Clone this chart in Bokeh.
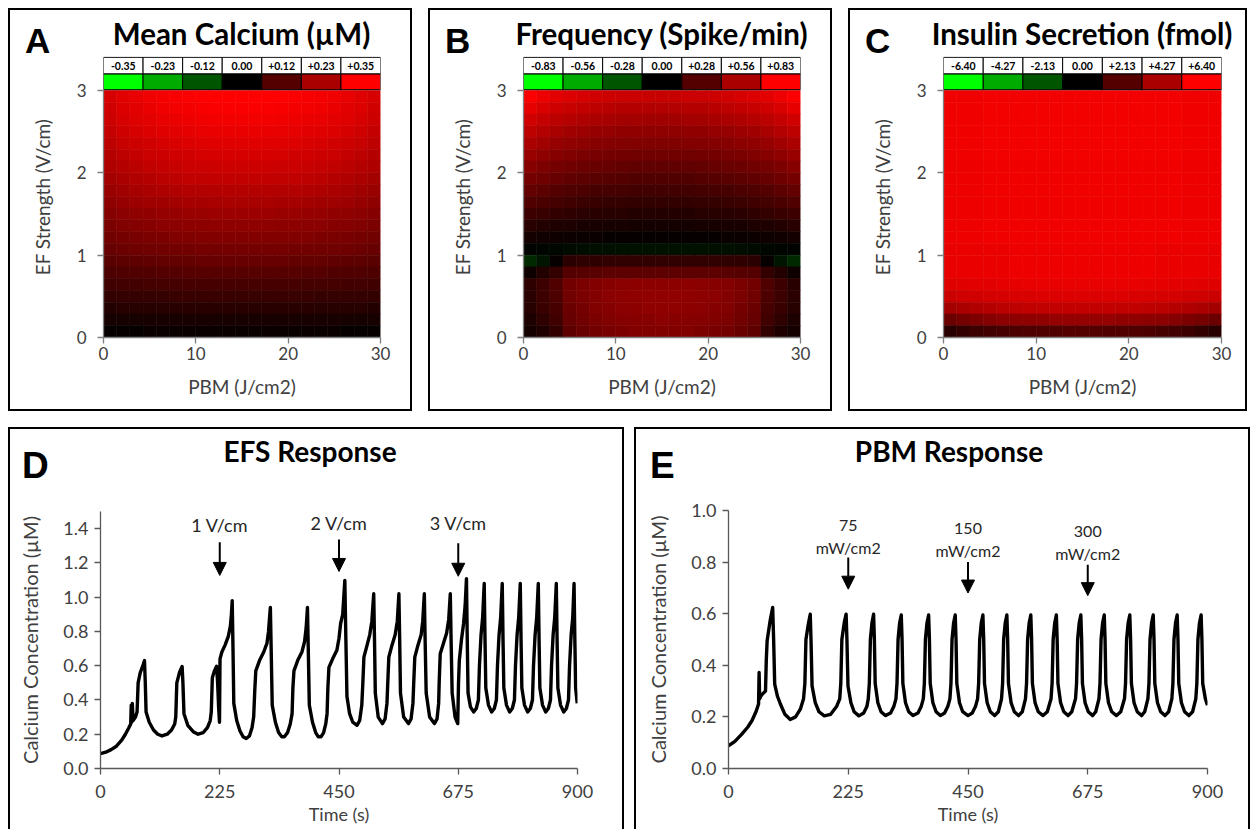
import numpy as np
from bokeh.plotting import figure
from bokeh.models import (LinearColorMapper, FixedTicker, Arrow, NormalHead, Div,
                          ColumnDataSource, PrintfTickFormatter, Range1d)
from bokeh.transform import transform
from bokeh.layouts import row, column
from bokeh.embed import file_html
from bokeh.resources import INLINE
from bokeh.core.properties import value

# ------------------------------------------------------------------ data
heat_x_ticks = [0, 10, 20, 30]
heat_y_ticks = [0, 1, 2, 3]

A_title = "Mean Calcium (µM)"
A_scale = ["-0.35", "-0.23", "-0.12", "0.00", "+0.12", "+0.23", "+0.35"]
# cell values in % of scale maximum, rows from EF = 3 (top) down to EF = 0
A_grid = [
    [84, 88, 91, 94, 96, 97, 98, 99, 100, 100, 100, 100, 100, 99, 98, 97, 96, 94, 91, 88, 84],
    [82, 86, 89, 92, 94, 95, 96, 97, 98, 98, 98, 98, 98, 97, 96, 95, 94, 92, 89, 86, 82],
    [80, 84, 87, 89, 91, 92, 93, 94, 95, 95, 95, 95, 95, 94, 93, 92, 91, 89, 87, 84, 80],
    [77, 81, 84, 86, 88, 89, 90, 91, 92, 92, 92, 92, 92, 91, 90, 89, 88, 86, 84, 81, 77],
    [74, 78, 80, 82, 84, 85, 86, 87, 88, 88, 88, 88, 88, 87, 86, 85, 84, 82, 80, 78, 74],
    [71, 74, 77, 79, 80, 82, 82, 83, 84, 84, 84, 84, 84, 83, 82, 82, 80, 79, 77, 74, 71],
    [68, 71, 73, 75, 77, 78, 79, 79, 80, 80, 80, 80, 80, 79, 79, 78, 77, 75, 73, 71, 68],
    [64, 67, 69, 71, 73, 74, 75, 75, 76, 76, 76, 76, 76, 75, 75, 74, 73, 71, 69, 67, 64],
    [60, 63, 65, 67, 68, 69, 70, 70, 71, 71, 71, 71, 71, 70, 70, 69, 68, 67, 65, 63, 60],
    [56, 59, 61, 62, 63, 64, 65, 65, 66, 66, 66, 66, 66, 65, 65, 64, 63, 62, 61, 59, 56],
    [52, 54, 56, 57, 58, 59, 60, 60, 61, 61, 61, 61, 61, 60, 60, 59, 58, 57, 56, 54, 52],
    [48, 50, 52, 53, 54, 54, 55, 55, 56, 56, 56, 56, 56, 55, 55, 54, 54, 53, 52, 50, 48],
    [44, 46, 47, 48, 49, 50, 50, 51, 51, 51, 51, 51, 51, 51, 50, 50, 49, 48, 47, 46, 44],
    [40, 42, 43, 44, 44, 45, 45, 46, 46, 46, 46, 46, 46, 46, 45, 45, 44, 44, 43, 42, 40],
    [35, 36, 37, 38, 39, 39, 39, 40, 40, 40, 40, 40, 40, 40, 39, 39, 39, 38, 37, 36, 35],
    [30, 31, 32, 32, 33, 33, 34, 34, 34, 34, 34, 34, 34, 34, 34, 33, 33, 32, 32, 31, 30],
    [25, 26, 26, 27, 27, 27, 28, 28, 28, 28, 28, 28, 28, 28, 28, 27, 27, 27, 26, 26, 25],
    [20, 21, 21, 21, 21, 22, 22, 22, 22, 22, 22, 22, 22, 22, 22, 22, 21, 21, 21, 21, 20],
    [14, 15, 15, 15, 15, 16, 16, 16, 16, 16, 16, 16, 16, 16, 16, 16, 15, 15, 15, 15, 14],
    [9, 9, 9, 10, 10, 10, 10, 10, 10, 10, 10, 10, 10, 10, 10, 10, 10, 10, 9, 9, 9],
    [3, 3, 3, 4, 4, 4, 4, 4, 4, 4, 4, 4, 4, 4, 4, 4, 4, 4, 3, 3, 3],
]

B_title = "Frequency (Spike/min)"
B_scale = ["-0.83", "-0.56", "-0.28", "0.00", "+0.28", "+0.56", "+0.83"]
B_grid = [
    [98, 93, 89, 86, 84, 82, 80, 79, 79, 78, 78, 78, 79, 79, 80, 82, 84, 86, 89, 93, 98],
    [90, 85, 81, 78, 76, 74, 72, 71, 71, 70, 70, 70, 71, 71, 72, 74, 76, 78, 81, 85, 90],
    [82, 77, 73, 71, 68, 67, 65, 64, 64, 63, 63, 63, 64, 64, 65, 67, 68, 71, 73, 77, 82],
    [74, 70, 66, 63, 61, 59, 58, 57, 57, 56, 56, 56, 57, 57, 58, 59, 61, 63, 66, 70, 74],
    [67, 63, 59, 57, 55, 53, 52, 51, 51, 50, 50, 50, 51, 51, 52, 53, 55, 57, 59, 63, 67],
    [60, 56, 53, 50, 48, 47, 46, 45, 44, 44, 44, 44, 44, 45, 46, 47, 48, 50, 53, 56, 60],
    [53, 49, 46, 44, 42, 41, 40, 39, 38, 38, 38, 38, 38, 39, 40, 41, 42, 44, 46, 49, 53],
    [46, 43, 40, 38, 36, 35, 34, 33, 32, 32, 32, 32, 32, 33, 34, 35, 36, 38, 40, 43, 46],
    [39, 36, 33, 31, 30, 28, 28, 27, 26, 26, 26, 26, 26, 27, 28, 28, 30, 31, 33, 36, 39],
    [32, 29, 27, 25, 23, 22, 21, 21, 20, 20, 20, 20, 20, 21, 21, 22, 23, 25, 27, 29, 32],
    [24, 22, 20, 18, 17, 16, 15, 15, 14, 14, 14, 14, 14, 15, 15, 16, 17, 18, 20, 22, 24],
    [16, 14, 12, 11, 10, 10, 9, 9, 8, 8, 8, 8, 8, 9, 9, 10, 10, 11, 12, 14, 16],
    [8, 7, 6, 5, 4, 4, 3, 3, 3, 3, 3, 3, 3, 3, 3, 4, 4, 5, 6, 7, 8],
    [-1, -2, -3, -4, -5, -6, -6, -7, -7, -7, -7, -7, -7, -7, -6, -6, -5, -4, -3, -2, -1],
    [-16, -8, 3, 17, 18, 18, 19, 19, 19, 19, 19, 19, 19, 19, 19, 18, 18, 17, 3, -8, -16],
    [6, 14, 20, 33, 34, 35, 36, 36, 36, 36, 36, 36, 36, 36, 36, 35, 34, 33, 20, 14, 6],
    [18, 24, 32, 45, 48, 51, 53, 54, 55, 55, 55, 55, 55, 54, 53, 51, 48, 45, 32, 24, 16],
    [17, 24, 30, 44, 48, 51, 54, 55, 56, 57, 57, 57, 56, 55, 54, 51, 48, 44, 30, 24, 17],
    [15, 22, 28, 42, 46, 50, 52, 54, 55, 56, 56, 56, 55, 54, 52, 50, 46, 42, 28, 22, 15],
    [11, 18, 25, 40, 44, 48, 50, 52, 53, 53, 54, 53, 53, 52, 50, 48, 44, 40, 25, 18, 11],
    [8, 12, 20, 37, 41, 45, 47, 49, 50, 50, 50, 50, 50, 49, 47, 45, 41, 37, 20, 12, 8],
]

C_title = "Insulin Secretion (fmol)"
C_scale = ["-6.40", "-4.27", "-2.13", "0.00", "+2.13", "+4.27", "+6.40"]
C_grid = [
    [94, 94, 94, 95, 95, 95, 95, 95, 95, 95, 95, 95, 95, 95, 95, 95, 95, 95, 94, 94, 94],
    [94, 94, 94, 95, 95, 95, 95, 95, 95, 95, 95, 95, 95, 95, 95, 95, 95, 95, 94, 94, 94],
    [94, 94, 94, 95, 95, 95, 95, 95, 95, 95, 95, 95, 95, 95, 95, 95, 95, 95, 94, 94, 94],
    [94, 94, 94, 95, 95, 95, 95, 95, 95, 95, 95, 95, 95, 95, 95, 95, 95, 95, 94, 94, 94],
    [94, 94, 94, 95, 95, 95, 95, 95, 95, 95, 95, 95, 95, 95, 95, 95, 95, 95, 94, 94, 94],
    [94, 94, 94, 95, 95, 95, 95, 95, 95, 95, 95, 95, 95, 95, 95, 95, 95, 95, 94, 94, 94],
    [93, 93, 93, 94, 94, 94, 94, 94, 94, 94, 94, 94, 94, 94, 94, 94, 94, 94, 93, 93, 93],
    [93, 93, 93, 94, 94, 94, 94, 94, 94, 94, 94, 94, 94, 94, 94, 94, 94, 94, 93, 93, 93],
    [93, 93, 93, 94, 94, 94, 94, 94, 94, 94, 94, 94, 94, 94, 94, 94, 94, 94, 93, 93, 93],
    [93, 93, 93, 94, 94, 94, 94, 94, 94, 94, 94, 94, 94, 94, 94, 94, 94, 94, 93, 93, 93],
    [93, 93, 93, 94, 94, 94, 94, 94, 94, 94, 94, 94, 94, 94, 94, 94, 94, 94, 93, 93, 93],
    [93, 93, 93, 94, 94, 94, 94, 94, 94, 94, 94, 94, 94, 94, 94, 94, 94, 94, 93, 93, 93],
    [93, 93, 93, 94, 94, 94, 94, 94, 94, 94, 94, 94, 94, 94, 94, 94, 94, 94, 93, 93, 93],
    [91, 92, 92, 92, 92, 93, 93, 93, 93, 93, 93, 93, 93, 93, 93, 93, 92, 92, 92, 92, 91],
    [91, 92, 92, 92, 92, 93, 93, 93, 93, 93, 93, 93, 93, 93, 93, 93, 92, 92, 92, 92, 91],
    [91, 92, 92, 92, 92, 93, 93, 93, 93, 93, 93, 93, 93, 93, 93, 93, 92, 92, 92, 92, 91],
    [87, 88, 89, 89, 90, 90, 91, 91, 91, 91, 91, 91, 91, 91, 91, 90, 90, 89, 89, 88, 87],
    [79, 81, 82, 83, 84, 85, 85, 86, 86, 86, 86, 86, 86, 86, 85, 85, 84, 83, 82, 81, 79],
    [64, 67, 69, 71, 73, 74, 75, 75, 76, 76, 76, 76, 76, 75, 75, 74, 73, 71, 69, 67, 64],
    [42, 46, 49, 52, 54, 55, 56, 57, 58, 58, 58, 58, 58, 57, 56, 55, 54, 52, 49, 46, 42],
    [16, 20, 24, 26, 28, 30, 31, 32, 32, 33, 33, 33, 32, 32, 31, 30, 28, 26, 24, 20, 16],
]

time_ticks = [0, 225, 450, 675, 900]

D_title = "EFS Response"
D_y_ticks = [0.0, 0.2, 0.4, 0.6, 0.8, 1.0, 1.2, 1.4]
D_trace = [
    (0, 0.087), (10, 0.095), (20, 0.11), (30, 0.13), (40, 0.165), (47, 0.2), (53, 0.235), (57, 0.26),
    (58, 0.37), (59, 0.27), (60, 0.38), (61.5, 0.28), (66, 0.3), (69, 0.33), (71, 0.5), (75, 0.56),
    (80, 0.6), (83, 0.63), (84.5, 0.5), (86, 0.33), (92, 0.27), (100, 0.225), (108, 0.2), (116, 0.19),
    (126, 0.2), (134, 0.225), (140, 0.26), (142, 0.3), (144, 0.5), (149, 0.56), (154, 0.595),
    (155.5, 0.5), (157.5, 0.32), (165, 0.25), (175, 0.215), (184, 0.2), (194, 0.21), (202, 0.24),
    (207, 0.28), (209, 0.33), (211, 0.53), (215, 0.57), (219, 0.597), (221, 0.5), (223, 0.35),
    (224.5, 0.27), (225.5, 0.64), (229, 0.68), (235, 0.72), (241, 0.77), (245, 0.83), (247, 0.9),
    (248.5, 0.98), (250, 0.7), (251.5, 0.38), (257, 0.28), (263, 0.22), (269, 0.185), (275, 0.175),
    (281, 0.19), (286, 0.24), (289, 0.3), (291, 0.45), (293, 0.57), (300, 0.63), (308, 0.68),
    (314, 0.73), (317, 0.8), (320.5, 0.94), (322, 0.7), (324, 0.37), (330, 0.27), (336, 0.21),
    (342, 0.185), (347, 0.185), (353, 0.21), (358, 0.26), (361.5, 0.32), (363, 0.47), (365, 0.57),
    (372, 0.63), (380, 0.68), (385, 0.74), (388, 0.82), (390.5, 0.94), (392, 0.7), (394, 0.37),
    (400, 0.27), (406, 0.21), (411, 0.185), (416, 0.185), (421, 0.21), (425, 0.26), (427.5, 0.32),
    (429, 0.47), (431, 0.59), (438, 0.64), (446, 0.69), (450, 0.76), (453, 0.845), (457, 0.9),
    (461, 1.098), (463, 0.75), (465, 0.42), (470, 0.32), (476, 0.27), (484, 0.252), (489, 0.28),
    (493, 0.37), (495, 0.5), (497, 0.65), (503, 0.72), (508, 0.78), (512, 0.86), (515.5, 1.02),
    (517, 0.75), (518.5, 0.44), (524, 0.3), (532, 0.262), (537, 0.29), (540.5, 0.38), (542, 0.5),
    (544, 0.65), (550, 0.72), (556, 0.78), (560, 0.86), (563, 1.02), (564.5, 0.75), (566, 0.44),
    (572, 0.3), (581, 0.262), (586, 0.29), (589.5, 0.38), (591, 0.5), (593, 0.65), (599, 0.72),
    (605, 0.78), (608, 0.86), (611, 1.02), (612.5, 0.75), (614.5, 0.44), (621, 0.3), (630, 0.262),
    (635, 0.29), (638, 0.38), (639, 0.5), (641, 0.67), (647, 0.73), (653, 0.79), (657, 0.87),
    (660, 1.02), (661.5, 0.75), (663.5, 0.44), (669, 0.3), (674, 0.262), (675.5, 0.5), (677, 0.63),
    (681, 0.75), (685, 0.845), (688, 0.95), (690.5, 1.108), (692, 0.75), (693.5, 0.44), (698, 0.36),
    (704, 0.33), (709, 0.35), (713, 0.40), (715, 0.6), (718, 0.78), (721, 0.88), (724, 1.08),
    (725.5, 0.75), (727, 0.47), (732, 0.37), (738, 0.33), (743, 0.35), (747, 0.40), (749, 0.6),
    (752, 0.78), (755, 0.88), (758, 1.08), (759.5, 0.75), (761, 0.47), (766, 0.37), (772, 0.33),
    (777, 0.35), (781, 0.40), (783, 0.6), (786, 0.78), (789, 0.88), (792, 1.08), (793.5, 0.75),
    (795, 0.47), (800, 0.37), (806, 0.33), (811, 0.35), (815, 0.40), (817, 0.6), (820, 0.78),
    (823, 0.88), (826, 1.08), (827.5, 0.75), (829, 0.47), (834, 0.37), (840, 0.33), (845, 0.35),
    (849, 0.40), (851, 0.6), (854, 0.78), (857, 0.88), (860, 1.08), (861.5, 0.75), (863, 0.47),
    (868, 0.37), (874, 0.33), (879, 0.35), (883, 0.40), (885, 0.6), (888, 0.78), (891, 0.88),
    (893.5, 1.08), (895, 0.75), (896.5, 0.47), (899.5, 0.38),
]
D_marks_t = [225, 450, 675]
D_marks_text = ["1 V/cm", "2 V/cm", "3 V/cm"]
D_marks_text_y = [1.42, 1.43, 1.43]
D_arrow_top = [1.32, 1.337, 1.314]
D_arrow_tip = [1.127, 1.15, 1.122]

E_title = "PBM Response"
E_y_ticks = [0.0, 0.2, 0.4, 0.6, 0.8, 1.0]
E_trace = [
    (0, 0.088), (12, 0.105), (25, 0.133), (36, 0.16), (44, 0.185), (52, 0.222), (56.5, 0.25),
    (57.5, 0.372), (58.5, 0.27), (62, 0.285), (69.5, 0.30), (71, 0.42), (72.6, 0.495), (78, 0.57),
    (83, 0.624), (84.8, 0.5), (86.8, 0.327), (92, 0.28), (97.5, 0.25), (106, 0.21), (116, 0.19),
    (126, 0.2), (135, 0.23), (141, 0.27), (143.5, 0.33), (145.5, 0.5), (150, 0.56), (153.6, 0.598),
    (155, 0.5), (157, 0.32), (163, 0.255), (170, 0.22), (180, 0.204), (192, 0.21), (203, 0.24),
    (209, 0.27), (211, 0.33), (213, 0.5), (217.5, 0.565), (221, 0.598), (222.5, 0.5), (224.5, 0.32),
    (230, 0.255), (236, 0.22), (245, 0.204), (254, 0.215), (260, 0.24), (262.6, 0.27), (264.6, 0.33),
    (266.6, 0.5), (269.6, 0.565), (272.6, 0.598), (274.1, 0.5), (275.6, 0.33), (280.6, 0.255),
    (286.6, 0.22), (294.6, 0.205), (304.6, 0.215), (310.6, 0.24), (314.6, 0.27), (316.6, 0.33),
    (318.6, 0.5), (321.6, 0.565), (324.6, 0.595), (326.1, 0.5), (327.6, 0.33), (332.6, 0.255),
    (338.6, 0.22), (346.6, 0.205), (356, 0.215), (362, 0.24), (366, 0.27), (368, 0.33), (370, 0.5),
    (373, 0.565), (376, 0.595), (377.5, 0.5), (379, 0.33), (384, 0.255), (390, 0.22), (398, 0.205),
    (406, 0.215), (412, 0.24), (416, 0.27), (418, 0.33), (420, 0.5), (423, 0.565), (426, 0.595),
    (427.5, 0.5), (429, 0.33), (434, 0.255), (440, 0.22), (450, 0.205), (458, 0.215), (464, 0.24),
    (468, 0.27), (470, 0.33), (472, 0.5), (475, 0.565), (478, 0.595), (479.5, 0.5), (481, 0.33),
    (486, 0.255), (492, 0.22), (500, 0.205), (507, 0.22), (513, 0.27), (515, 0.33), (517, 0.5),
    (520, 0.565), (523, 0.595), (524.5, 0.5), (526, 0.33), (531, 0.255), (537, 0.22), (545, 0.205),
    (552, 0.22), (558, 0.27), (560, 0.33), (562, 0.5), (565, 0.565), (568, 0.595), (569.5, 0.5),
    (571, 0.33), (576, 0.255), (582, 0.22), (591, 0.205), (599, 0.22), (606, 0.27), (608, 0.33),
    (610, 0.5), (613, 0.565), (616, 0.595), (617.5, 0.5), (619, 0.33), (624, 0.255), (630, 0.22),
    (638, 0.205), (645, 0.22), (652, 0.27), (654, 0.33), (656, 0.5), (659, 0.565), (662, 0.595),
    (663.5, 0.5), (665, 0.33), (670, 0.255), (676, 0.22), (684, 0.205), (690, 0.22), (696, 0.27),
    (698, 0.33), (700, 0.5), (703, 0.565), (706, 0.595), (707.5, 0.5), (709, 0.33), (714, 0.255),
    (720, 0.22), (729, 0.205), (737, 0.22), (744, 0.27), (746, 0.33), (748, 0.5), (751, 0.565),
    (754, 0.595), (755.5, 0.5), (757, 0.33), (762, 0.255), (768, 0.22), (776, 0.205), (782, 0.22),
    (788, 0.27), (790, 0.33), (792, 0.5), (795, 0.565), (798, 0.595), (799.5, 0.5), (801, 0.33),
    (806, 0.255), (812, 0.22), (820, 0.205), (827, 0.22), (833, 0.27), (835, 0.33), (837, 0.5),
    (840, 0.565), (843, 0.595), (844.5, 0.5), (846, 0.33), (851, 0.255), (857, 0.22), (865, 0.205),
    (872, 0.22), (878, 0.27), (880, 0.33), (882, 0.5), (885, 0.565), (888, 0.595), (889.5, 0.5),
    (891, 0.33), (896, 0.27), (900, 0.245),
]
E_marks_t = [225, 450, 675]
E_marks_num = ["75", "150", "300"]
E_marks_unit = ["mW/cm2", "mW/cm2", "mW/cm2"]
E_num_y = [0.94, 0.93, 0.92]
E_unit_y = [0.855, 0.845, 0.835]
E_arrow_top = [0.818, 0.80, 0.79]
E_arrow_tip = [0.695, 0.68, 0.67]

# ------------------------------------------------------------------ styling helpers
FONT = "Lato"
BOX = {"border": "2px solid black", "box-sizing": "content-box"}
BOX_OPEN = {"border": "2px solid black", "border-bottom": "none", "box-sizing": "content-box"}


def rg(t):
    if t < 0:
        return "#%02x%02x%02x" % (0, int(round(-t * 255)), 0)
    return "#%02x%02x%02x" % (int(round(t * 255)), 0, 0)


palette = [rg(i / 127.5 - 1) for i in range(256)]
mapper = LinearColorMapper(palette=palette, low=-100, high=100)


def header(width, height, letter, lx, ltop, lsize, title, tcx, ttop, tsize):
    html = (
        '<div style="position:relative;width:%dpx;height:%dpx;overflow:visible;">'
        '<span style="position:absolute;left:%dpx;top:%.1fpx;font-family:\'Liberation Sans\';'
        'font-weight:bold;font-size:%dpx;line-height:1;color:#000;white-space:nowrap;">%s</span>'
        '<span style="position:absolute;left:%.1fpx;top:%.1fpx;transform:translateX(-50%%);'
        'font-family:Lato;font-weight:bold;font-size:%.1fpx;line-height:1;color:#000;'
        'white-space:nowrap;">%s</span></div>'
        % (width, height, lx, ltop, lsize, letter, tcx, ttop, tsize, title))
    return Div(text=html, width=width, height=height, margin=(0, 0, 0, 0))


def style_axes(p, tick_size, label_size, axis_color):
    p.xgrid.visible = False
    p.ygrid.visible = False
    p.outline_line_color = None
    p.background_fill_color = "white"
    p.border_fill_color = "white"
    for ax in (p.xaxis, p.yaxis):
        ax.axis_line_color = axis_color
        ax.axis_line_width = 1.3
        ax.major_tick_line_color = axis_color
        ax.major_tick_line_width = 1.3
        ax.major_tick_out = 6
        ax.major_tick_in = 0
        ax.minor_tick_line_color = None
        ax.major_label_text_font = FONT
        ax.major_label_text_font_size = tick_size
        ax.major_label_text_color = "#404040"
        ax.axis_label_text_font = FONT
        ax.axis_label_text_font_size = label_size
        ax.axis_label_text_font_style = "normal"
        ax.axis_label_text_color = "#404040"


def heat_panel(letter, title, grid, scale_labels, width, min_right):
    hd = header(width, 44, letter, 15, 13.4, 35, title,
                93 + (width - 93 - min_right) / 2.0, 8.8, 29.5)
    p = figure(width=width, height=355, x_range=Range1d(0, 30), y_range=Range1d(0, 3.412),
               output_backend="svg", toolbar_location=None,
               min_border_left=93, min_border_right=min_right, min_border_top=2,
               min_border_bottom=72)
    nrow = len(grid)
    ncol = len(grid[0])
    cw = 30.0 / ncol
    ch = 3.0 / nrow
    xs, ys, vs = [], [], []
    for i, r in enumerate(grid):
        for j, v in enumerate(r):
            xs.append((j + 0.5) * cw)
            ys.append(3.0 - (i + 0.5) * ch)
            vs.append(v)
    src = ColumnDataSource(dict(x=xs, y=ys, v=vs))
    p.rect("x", "y", width=cw, height=ch, source=src,
           fill_color=transform("v", mapper), line_color=transform("v", mapper), line_width=0.6)

    # colour key table above the map
    n = len(scale_labels)
    lw = 30.0 / n
    key = ColumnDataSource(dict(
        x=[(k + 0.5) * lw for k in range(n)],
        v=[-100 + 200.0 * k / (n - 1) for k in range(n)],
        t=scale_labels))
    p.rect("x", 3.105, width=lw, height=0.192, source=key,
           fill_color=transform("v", mapper), line_color="black", line_width=1)
    p.rect("x", 3.302, width=lw, height=0.2, source=key,
           fill_color="white", line_color="black", line_width=1)
    p.text("x", 3.302, text="t", source=key, text_align="center", text_baseline="middle",
           text_font=value(FONT), text_font_size="10.5px", text_font_style="bold",
           text_color="black")

    style_axes(p, "17px", "19px", "#7f7f7f")
    p.xaxis.ticker = FixedTicker(ticks=heat_x_ticks)
    p.yaxis.ticker = FixedTicker(ticks=heat_y_ticks)
    p.yaxis.bounds = (0, 3)
    p.xaxis.axis_label = "PBM (J/cm2)"
    p.yaxis.axis_label = "EF Strength (V/cm)"
    p.yaxis.major_label_standoff = 11
    p.xaxis.major_label_standoff = 3
    p.yaxis.axis_label_standoff = 20
    p.xaxis.axis_label_standoff = 12
    return column(hd, p, spacing=0, styles=BOX)


def trace_panel(letter, title, trace, ymax, yticks, min_left, min_right, min_top, lx, title_x):
    hd = header(612, 60, letter, lx, 17.7, 37, title, title_x, 8.2, 28)
    p = figure(width=612, height=340, x_range=Range1d(0, 900), y_range=Range1d(0, ymax),
               output_backend="svg", toolbar_location=None,
               min_border_left=min_left, min_border_right=min_right, min_border_top=min_top,
               min_border_bottom=61)
    t = [a for a, b in trace]
    c = [b for a, b in trace]
    p.line(t, c, line_width=3.4, line_color="black", line_join="round")
    style_axes(p, "18px", "18px", "#595959")
    p.yaxis.axis_label_text_font_size = "20px"
    p.xaxis.ticker = FixedTicker(ticks=time_ticks)
    p.yaxis.ticker = FixedTicker(ticks=yticks)
    p.yaxis.formatter = PrintfTickFormatter(format="%.1f")
    p.xaxis.axis_label = "Time (s)"
    p.yaxis.axis_label = "Calcium Concentration (µM)"
    p.yaxis.major_label_standoff = 6
    p.xaxis.major_label_standoff = 10
    p.yaxis.axis_label_standoff = 18
    p.xaxis.axis_label_standoff = 2
    return p, column(hd, p, spacing=0, styles=BOX_OPEN)


panA = heat_panel("A", A_title, A_grid, A_scale, 400, 30)
panB = heat_panel("B", B_title, B_grid, B_scale, 400, 30)
panC = heat_panel("C", C_title, C_grid, C_scale, 395, 24)

pD, panD = trace_panel("D", D_title, D_trace, 1.5, D_y_ticks, 90, 45, 22, 12, 300)
pE, panE = trace_panel("E", E_title, E_trace, 1.0, E_y_ticks, 92, 41, 21, 14, 313)

# event arrows and labels, D
dsrc = ColumnDataSource(dict(x=D_marks_t, y0=D_arrow_top, y1=D_arrow_tip, ty=D_marks_text_y,
                             txt=D_marks_text))
pD.add_layout(Arrow(end=NormalHead(size=13, fill_color="black", line_color="black"),
                    x_start="x", y_start="y0", x_end="x", y_end="y1", source=dsrc,
                    line_color="black", line_width=2))
pD.text("x", "ty", text="txt", source=dsrc, text_align="center", text_baseline="middle",
        text_font=value(FONT), text_font_size="18px", text_color="#262626")

# event arrows and labels, E
esrc = ColumnDataSource(dict(x=E_marks_t, y0=E_arrow_top, y1=E_arrow_tip, ny=E_num_y,
                             uy=E_unit_y, num=E_marks_num, unit=E_marks_unit))
pE.add_layout(Arrow(end=NormalHead(size=13, fill_color="black", line_color="black"),
                    x_start="x", y_start="y0", x_end="x", y_end="y1", source=esrc,
                    line_color="black", line_width=2))
pE.text("x", "ny", text="num", source=esrc, text_align="center", text_baseline="middle",
        text_font=value(FONT), text_font_size="16px", text_color="#262626")
pE.text("x", "uy", text="unit", source=esrc, text_align="center", text_baseline="middle",
        text_font=value(FONT), text_font_size="16px", text_color="#262626")

layout = column(row(panA, panB, panC, spacing=16), row(panD, panE, spacing=10), spacing=16,
                margin=(8, 0, 0, 8))

open("out.html", "w").write(file_html(layout, INLINE))
